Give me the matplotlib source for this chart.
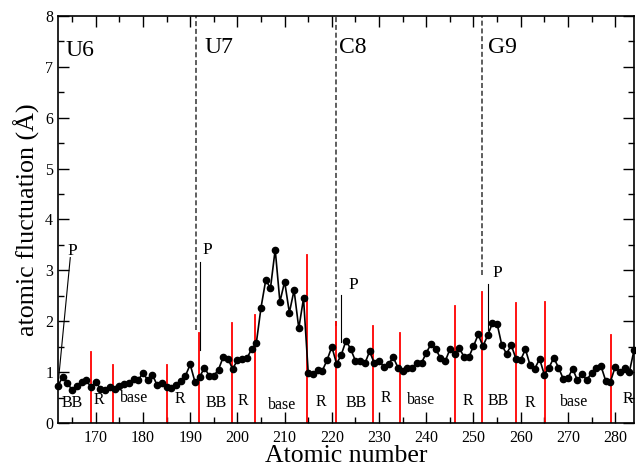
import matplotlib
matplotlib.use('Agg')
import matplotlib.pyplot as plt
from matplotlib.ticker import MultipleLocator
import numpy as np

plt.rcParams['font.family'] = ['Liberation Serif', 'DejaVu Serif']

# atomic numbers and fluctuations
atom_num = np.arange(162, 285)
fluct = [0.73, 0.91, 0.79, 0.64, 0.73, 0.81, 0.84, 0.70, 0.81, 0.67,
         0.65, 0.70, 0.66, 0.72, 0.77, 0.79, 0.87, 0.84, 0.99, 0.84,
         0.95, 0.74, 0.79, 0.70, 0.68, 0.74, 0.82, 0.93, 1.15, 0.81,
         0.90, 1.09, 0.93, 0.93, 1.05, 1.30, 1.26, 1.06, 1.24, 1.26,
         1.27, 1.45, 1.57, 2.27, 2.81, 2.65, 3.41, 2.38, 2.78, 2.17,
         2.61, 1.86, 2.45, 0.98, 0.97, 1.04, 1.03, 1.24, 1.50, 1.16,
         1.34, 1.62, 1.45, 1.22, 1.22, 1.17, 1.41, 1.17, 1.22, 1.11,
         1.16, 1.29, 1.09, 1.03, 1.09, 1.09, 1.18, 1.18, 1.38, 1.55,
         1.45, 1.28, 1.21, 1.45, 1.36, 1.47, 1.30, 1.29, 1.51, 1.74,
         1.51, 1.72, 1.96, 1.95, 1.53, 1.36, 1.53, 1.26, 1.24, 1.45,
         1.13, 1.07, 1.26, 0.95, 1.09, 1.28, 1.09, 0.87, 0.88, 1.07,
         0.84, 0.96, 0.84, 0.99, 1.09, 1.12, 0.83, 0.81, 1.10, 1.01,
         1.08, 1.00, 1.43]

# red separators (position, height)
sep_x = [169, 173.7, 185, 191.8, 198.8, 203.8, 214.8, 220.8, 228.7, 234.4,
         246.1, 251.9, 259, 265.1, 279.1]
sep_h = [1.40, 1.14, 1.14, 1.77, 1.97, 2.13, 3.30, 1.98, 1.91, 1.76,
         2.29, 2.58, 2.36, 2.37, 1.73]

# nucleotide boundaries
nuc_names = ['U6', 'U7', 'C8', 'G9']
nuc_x = [None, 191.2, 220.8, 251.8]
nuc_ybot = [None, 1.83, 1.9, 2.9]
nuc_text_x = [163.5, 193.0, 221.6, 253.0]
nuc_text_y = [7.21, 7.27, 7.27, 7.27]

# region labels
reg_names = ['BB', 'R', 'base', 'R', 'BB', 'R', 'base', 'R', 'BB', 'R',
             'base', 'R', 'BB', 'R', 'base', 'R']
reg_x = [165.0, 170.7, 178.1, 187.9, 195.5, 201.1, 209.4, 217.6, 225.2,
         231.5, 238.9, 248.9, 255.3, 261.9, 271.4, 282.6]
reg_y = [0.39, 0.45, 0.49, 0.47, 0.40, 0.44, 0.35, 0.42, 0.39, 0.49,
         0.45, 0.44, 0.44, 0.40, 0.42, 0.48]

# P pointers: (x0, y0, x1, y1, text x, text y)
p_lines = [(162.0, 0.75, 164.6, 3.25, 163.9, 3.30),
           (192.0, 1.43, 192.0, 3.17, 192.6, 3.33),
           (221.9, 1.60, 221.9, 2.51, 223.6, 2.64),
           (253.1, 1.83, 253.1, 2.73, 254.1, 2.86)]

fig = plt.figure(figsize=(6.36, 4.66), dpi=100)
ax = fig.add_axes([0.0912, 0.0923, 0.9057, 0.8734])

for i in range(len(nuc_names)):
    if nuc_x[i] is not None:
        ax.plot([nuc_x[i], nuc_x[i]], [nuc_ybot[i], 8], color='#333333',
                lw=1.1, linestyle=(0, (3.3, 1.8)), zorder=1)
    ax.text(nuc_text_x[i], nuc_text_y[i], nuc_names[i], fontsize=17,
            ha='left', va='baseline')

for x, h in zip(sep_x, sep_h):
    ax.plot([x, x], [0, h], color='red', lw=1.3, zorder=2)

for x0, y0, x1, y1, tx, ty in p_lines:
    ax.plot([x0, x1], [y0, y1], color='black', lw=0.8, zorder=3)
    ax.text(tx, ty, 'P', fontsize=12.5, ha='left', va='baseline')

for name, x, y in zip(reg_names, reg_x, reg_y):
    ax.text(x, y, name, fontsize=11.5, ha='center', va='center')

ax.plot(atom_num, fluct, color='black', lw=1.2, marker='o', markersize=4.5,
        zorder=4, clip_on=False)

ax.set_xlim(162, 284)
ax.set_ylim(0, 8)
ax.xaxis.set_major_locator(MultipleLocator(10))
ax.xaxis.set_minor_locator(MultipleLocator(5))
ax.yaxis.set_major_locator(MultipleLocator(1))
ax.yaxis.set_minor_locator(MultipleLocator(0.5))
ax.tick_params(which='both', direction='in', top=True, right=True,
               labelsize=11.5, width=1)
ax.tick_params(axis='x', pad=5)
ax.tick_params(which='major', length=8)
ax.tick_params(which='minor', length=4.3)
for s in ax.spines.values():
    s.set_linewidth(1.2)

ax.set_xlabel('Atomic number', fontsize=18.5, labelpad=-1)
ax.set_ylabel('atomic fluctuation (Å)', fontsize=18.7, labelpad=4)

fig.savefig('out.png', dpi=100)
